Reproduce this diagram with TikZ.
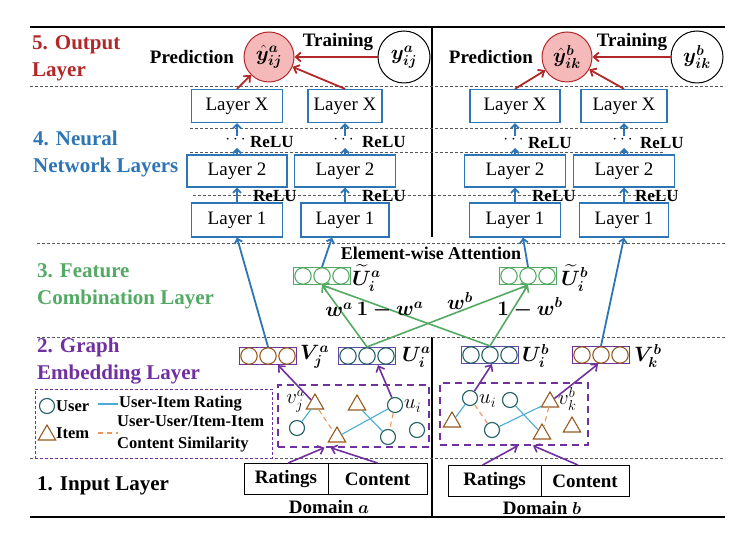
\documentclass[tikz,border=0pt]{standalone}
\usepackage{amsmath, bm}
\usepackage{fontspec}
\setmainfont{Liberation Serif}
\usepackage{tikz}
\usetikzlibrary{arrows.meta, shapes.geometric}

\definecolor{outred}{RGB}{178,40,40}
\definecolor{pinkfill}{RGB}{245,185,185}
\definecolor{nnblue}{RGB}{46,117,182}
\definecolor{combc}{RGB}{84,170,100}
\definecolor{embc}{RGB}{112,48,160}
\definecolor{ubox}{RGB}{95,75,165}
\definecolor{userc}{RGB}{35,95,100}
\definecolor{itemc}{RGB}{150,90,30}
\definecolor{rateblue}{RGB}{75,172,214}
\definecolor{simorange}{RGB}{235,150,90}

\begin{document}
\begin{tikzpicture}[x=1pt, y=-1pt,
  layername/.style={font=\bfseries\fontsize{21}{27}\selectfont, align=left, inner sep=0pt, anchor=west},
  boldtext/.style={font=\bfseries\fontsize{19}{21}\selectfont, inner sep=0pt},
  relu/.style={font=\bfseries\fontsize{17}{19}\selectfont, inner sep=0pt, anchor=west},
  legtext/.style={font=\bfseries\fontsize{16.5}{22}\selectfont, inner sep=0pt, anchor=west},
  layer/.style={draw=nnblue, line width=1.3pt, fill=white, minimum height=33pt, inner sep=0pt, font=\fontsize{19}{21}\selectfont},
  outcirc/.style={circle, draw=outred, fill=pinkfill, line width=1pt, minimum size=50pt, inner sep=0pt, font=\fontsize{22}{24}\selectfont},
  truecirc/.style={circle, draw=black, line width=1pt, minimum size=52pt, inner sep=0pt, font=\fontsize{22}{24}\selectfont},
  vecbox/.style={rectangle, minimum width=57pt, minimum height=17pt, inner sep=0pt, line width=1.2pt},
  veclabel/.style={font=\fontsize{21}{23}\selectfont, inner sep=0pt, anchor=west},
  weight/.style={font=\fontsize{20}{22}\selectfont, inner sep=0pt},
  mathlabel/.style={font=\fontsize{20}{22}\selectfont, inner sep=0pt},
  user/.style={circle, draw=userc, line width=1.1pt, minimum size=15pt, inner sep=0pt},
  item/.style={regular polygon, regular polygon sides=3, draw=itemc, line width=1.1pt, minimum size=20pt, inner sep=0pt},
  rating/.style={rateblue, line width=1.1pt},
  simil/.style={simorange, line width=1.1pt, dash pattern=on 5pt off 4pt},
  graphbox/.style={draw=embc, line width=1.3pt, dash pattern=on 7pt off 5pt, inner sep=0pt},
  inbox/.style={draw=black, line width=0.9pt, minimum height=31pt, inner sep=0pt, font=\bfseries\fontsize{19}{21}\selectfont},
  sepline/.style={black!65, line width=0.6pt, dash pattern=on 3pt off 2pt},
  outarrow/.style={-{Straight Barb[length=5pt,width=9pt]}, outred, line width=1.8pt},
  nnarrow/.style={-{Straight Barb[length=4pt,width=8pt]}, nnblue, line width=1.8pt},
  combarrow/.style={-{Straight Barb[length=5pt,width=9pt]}, combc, line width=1.6pt},
  embarrow/.style={-{Straight Barb[length=5pt,width=9pt]}, embc, line width=1.6pt}]
\useasboundingbox (0,0) rectangle (750,534);

%the frame
\draw[line width=1.8pt] (30,27) -- (725,27);
\draw[line width=1.8pt] (30,517) -- (725,517);
\draw[line width=1.4pt] (432,27) -- (432,237);
\draw[line width=1.4pt] (432,337) -- (432,517);
\draw[sepline] (30,86) -- (725,86);
\draw[sepline] (190,128) -- (663,128);
\draw[sepline] (190,152) -- (665,152);
\draw[sepline] (193,195) -- (675,195);
\draw[sepline] (37,243) -- (725,243);
\draw[sepline] (37,337) -- (725,337);
\draw[sepline] (30,458) -- (725,458);

%the layer names
\node[layername, outred] (outname) at (32,58) {5. Output\\Layer};
\node[layername, nnblue] (nnname) at (33,154) {4. Neural\\Network Layers};
\node[layername, combc] (combname) at (37,286) {3. Feature\\Combination Layer};
\node[layername, embc] (embname) at (37,361) {2. Graph\\Embedding Layer};
\node[layername] (inname) at (37,486) {1. Input Layer};

%the output layer
\node[outcirc] (yhata) at (269,57) {$\bm{\hat{y}^{a}_{ij}}$};
\node[truecirc] (ya) at (404,57) {$\bm{y^{a}_{ij}}$};
\node[boldtext] (preda) at (192,57) {Prediction};
\node[boldtext] (traina) at (338,42) {Training};
\node[outcirc] (yhatb) at (567,57) {$\bm{\hat{y}^{b}_{ik}}$};
\node[truecirc] (yb) at (697,57) {$\bm{y^{b}_{ik}}$};
\node[boldtext] (predb) at (491,57) {Prediction};
\node[boldtext] (trainb) at (632,42) {Training};
\draw[outarrow] (ya) -- (yhata);
\draw[outarrow] (yb) -- (yhatb);

%the neural network layers
\node[layer, minimum width=91pt] (lxa1) at (237,106) {Layer X};
\node[layer, minimum width=74pt] (lxa2) at (345,106) {Layer X};
\node[layer, minimum width=100pt, minimum height=32pt] (l2a1) at (237,171) {Layer 2};
\node[layer, minimum width=101pt, minimum height=32pt] (l2a2) at (345,171) {Layer 2};
\node[layer, minimum width=91pt, minimum height=34pt] (l1a1) at (237,220) {Layer 1};
\node[layer, minimum width=88pt, minimum height=34pt] (l1a2) at (345,220) {Layer 1};
\node[layer, minimum width=90pt] (lxb1) at (515,106) {Layer X};
\node[layer, minimum width=86pt] (lxb2) at (624,106) {Layer X};
\node[layer, minimum width=101pt, minimum height=32pt] (l2b1) at (515,171) {Layer 2};
\node[layer, minimum width=101pt, minimum height=32pt] (l2b2) at (624,171) {Layer 2};
\node[layer, minimum width=91pt, minimum height=34pt] (l1b1) at (515,220) {Layer 1};
\node[layer, minimum width=89pt, minimum height=34pt] (l1b2) at (624,220) {Layer 1};

\draw[outarrow] (lxa1.north) -- (yhata);
\draw[outarrow] (lxa2.north) -- (yhata);
\draw[outarrow] (lxb1.north) -- (yhatb);
\draw[outarrow] (lxb2.north) -- (yhatb);

%the relu steps
\coordinate (ta1) at (237,148); \coordinate (sa1) at (237,136);
\coordinate (ta2) at (345,148); \coordinate (sa2) at (345,136);
\coordinate (tb1) at (515,148); \coordinate (sb1) at (515,136);
\coordinate (tb2) at (624,148); \coordinate (sb2) at (624,136);
\draw[nnarrow] (l2a1) -- (ta1);
\draw[nnarrow] (sa1) -- (lxa1);
\draw[nnarrow] (l2a2) -- (ta2);
\draw[nnarrow] (sa2) -- (lxa2);
\draw[nnarrow] (l2b1) -- (tb1);
\draw[nnarrow] (sb1) -- (lxb1);
\draw[nnarrow] (l2b2) -- (tb2);
\draw[nnarrow] (sb2) -- (lxb2);
\node[boldtext] (da1) at (237,140) {$\cdots$};
\node[boldtext] (da2) at (345,140) {$\cdots$};
\node[boldtext] (db1) at (515,140) {$\cdots$};
\node[boldtext] (db2) at (624,140) {$\cdots$};
\node[relu] (rxa1) at (250,142) {ReLU};
\node[relu] (rxa2) at (362,142) {ReLU};
\node[relu] (rxb1) at (528,143) {ReLU};
\node[relu] (rxb2) at (640,143) {ReLU};

\draw[nnarrow] (l1a1) -- (l2a1);
\draw[nnarrow] (l1a2) -- (l2a2);
\draw[nnarrow] (l1b1) -- (l2b1);
\draw[nnarrow] (l1b2) -- (l2b2);
\node[relu] (r1a1) at (253,196) {ReLU};
\node[relu] (r1a2) at (362,196) {ReLU};
\node[relu] (r1b1) at (532,196) {ReLU};
\node[relu] (r1b2) at (635,196) {ReLU};

%the feature combination layer
\node[vecbox, draw=combc] (uta) at (322,276) {};
\node[veclabel] (utal) at (352,278) {$\bm{\widetilde{U}^{a}_{i}}$};
\node[vecbox, draw=combc] (utb) at (528,276) {};
\node[veclabel] (utbl) at (561,278) {$\bm{\widetilde{U}^{b}_{i}}$};
\node[boldtext, font=\bfseries\fontsize{18}{20}\selectfont] (att) at (431,253) {Element-wise Attention};

%the graph embedding layer
\node[vecbox, draw=embc] (va) at (268,356) {};
\node[veclabel] (val) at (300,357) {$\bm{V^{a}_{j}}$};
\node[vecbox, draw=ubox] (ua) at (367,356) {};
\node[veclabel] (ual) at (402,357) {$\bm{U^{a}_{i}}$};
\node[vecbox, draw=ubox] (ub) at (490,355) {};
\node[veclabel] (ubl) at (522,356) {$\bm{U^{b}_{i}}$};
\node[vecbox, draw=embc] (vb) at (601,355) {};
\node[veclabel] (vbl) at (634,356) {$\bm{V^{b}_{k}}$};
\foreach \v/\c in {va/itemc, ua/userc, ub/userc, vb/itemc, uta/combc, utb/combc}
  \foreach \d in {-19,0,19}
    \draw[\c, line width=1.1pt] ([xshift=\d pt]\v.center) circle (8.2pt);

\draw[nnarrow] (va.north) -- (l1a1.south);
\draw[nnarrow] (vb.north) -- (l1b2.south);
\draw[nnarrow] (uta.north) -- ([xshift=-13pt]l1a2.south);
\draw[nnarrow] (utb.north) -- ([xshift=8pt]l1b1.south);

\draw[combarrow] (ua.north) -- (uta.south);
\draw[combarrow] (ub.north) -- (uta.south);
\draw[combarrow] (ua.north) -- (utb.south);
\draw[combarrow] (ub.north) -- (utb.south);
\node[weight] (wa) at (339,310) {$\bm{w^{a}}$};
\node[weight] (wa1) at (390,310) {$\bm{1-w^{a}}$};
\node[weight] (wb) at (460,301) {$\bm{w^{b}}$};
\node[weight] (wb1) at (530,308) {$\bm{1-w^{b}}$};

%the graphs
\node[graphbox, minimum width=151pt, minimum height=62pt] (ga) at (353.5,416) {};
\node[graphbox, minimum width=148pt, minimum height=62pt] (gb) at (514,414) {};

\node[item] (via) at (315,404) {};
\node[mathlabel, anchor=east] (vial) at (305,401) {$v^{a}_{j}$};
\node[item] (ia2) at (357,405) {};
\node[item] (ia3) at (337,437) {};
\node[user] (ua1) at (297,428) {};
\node[user] (uai) at (395,405) {};
\node[mathlabel, anchor=west] (uail) at (404,406) {$u_{i}$};
\node[user] (ua3) at (388,437) {};
\node[user] (ua4) at (417,430) {};
\draw[rating] (ua1) -- (via);
\draw[rating] (ia2) -- (ua3);
\draw[rating] (ia3) -- (uai);
\draw[simil] (via) -- (ia3);
\draw[simil] (uai) -- (ua3);

\node[user] (ubi) at (470,398) {};
\node[mathlabel, anchor=west] (ubil) at (479,401) {$u_{i}$};
\node[user] (ub2) at (510,400) {};
\node[item] (ib1) at (452,422) {};
\node[user] (ub3) at (492,430) {};
\node[item] (vkb) at (550,402) {};
\node[mathlabel, anchor=west] (vkbl) at (558,399) {$v^{b}_{k}$};
\node[item] (ib2) at (542,434) {};
\node[item] (ib3) at (572,427) {};
\draw[rating] (ib1) -- (ubi);
\draw[rating] (ub2) -- (ib2);
\draw[rating] (ub3) -- (vkb);
\draw[simil] (ubi) -- (ub3);
\draw[simil] (vkb) -- (ib2);

\draw[embarrow] (via) -- ([xshift=10pt]va.south);
\draw[embarrow] (uai) -- ([xshift=11pt]ua.south);
\draw[embarrow] (ubi) -- ([xshift=2pt]ub.south);
\draw[embarrow] (vkb) -- ([xshift=-3pt]vb.south);

%the input layer
\node[inbox, minimum width=84pt] (ratinga) at (286,479) {Ratings};
\node[inbox, minimum width=99pt] (contenta) at (377.5,479) {Content};
\node[boldtext] (doma) at (329,507) {Domain $\bm{a}$};
\node[inbox, minimum width=93pt] (ratingb) at (494.5,481) {Ratings};
\node[inbox, minimum width=88pt] (contentb) at (585,481) {Content};
\node[boldtext] (domb) at (542,508) {Domain $\bm{b}$};
\draw[embarrow] ([xshift=2pt]ratinga.north) -- ([xshift=-29pt]ga.south);
\draw[embarrow] (contenta.north) -- ([xshift=-23pt]ga.south);
\draw[embarrow] ([xshift=-12pt]ratingb.north) -- ([xshift=4pt]gb.south);
\draw[embarrow] ([xshift=-7pt]contentb.north) -- ([xshift=19pt]gb.south);

%the legend
\node[draw=embc, line width=0.8pt, dash pattern=on 3pt off 2pt, minimum width=237pt, minimum height=69pt, inner sep=0pt] (leg) at (153.5,423.5) {};
\node[user] (lu) at (47,406) {};
\node[legtext] (lut) at (56,406) {User};
\node[item] (li) at (47,435) {};
\node[legtext] (lit) at (56,433) {Item};
\coordinate (lr1) at (98,404); \coordinate (lr2) at (118,404);
\draw[rating] (lr1) -- (lr2);
\node[legtext] (lrt) at (119,404) {User-Item Rating};
\coordinate (ls1) at (98,433); \coordinate (ls2) at (118,433);
\draw[simil] (ls1) -- (ls2);
\node[legtext, align=left] (lst) at (117,434) {User-User/Item-Item\\Content Similarity};
\end{tikzpicture}
\end{document}
